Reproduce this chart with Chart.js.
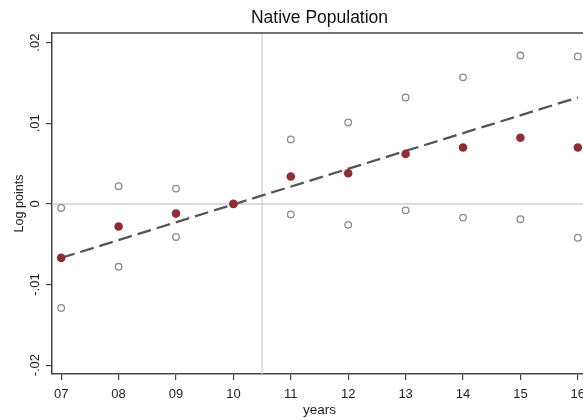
<!DOCTYPE html>
<html>
<head>
<meta charset="utf-8">
<script src="https://cdn.jsdelivr.net/npm/chart.js@4/dist/chart.umd.min.js"></script>
<style>
  html, body { margin: 0; padding: 0; overflow: hidden; background: #fff; }
  canvas { display: block; }
</style>
</head>
<body>
<canvas id="chart" width="600" height="420"></canvas>
<script>
// Event-study estimates by year (log points)
const years = [7, 8, 9, 10, 11, 12, 13, 14, 15, 16];
const xTickLabels = ['07', '08', '09', '10', '11', '12', '13', '14', '15', '16'];
const estimate = [-0.0067, -0.0028, -0.0012, 0, 0.0034, 0.0038, 0.0062, 0.0070, 0.0082, 0.0070];
const upperBound = [-0.0005, 0.0022, 0.0019, 0, 0.0080, 0.0101, 0.0132, 0.0157, 0.0184, 0.0183];
const lowerBound = [-0.0129, -0.0078, -0.0041, 0, -0.0013, -0.0026, -0.0008, -0.0017, -0.0019, -0.0042];

// Linear trend through the estimates
const trendYears = [7, 16];
const trendValues = [-0.0067, 0.0132];

// Y axis ticks
const yTicks = [-0.02, -0.01, 0, 0.01, 0.02];
const yTickLabels = ['-.02', '-.01', '0', '.01', '.02'];

// Reference lines
const policyBreak = 10.5;
const zeroLevel = 0;

const FONT = '"Liberation Sans", Arial, sans-serif';
const AXIS_COLOR = '#444';
const TEXT_COLOR = '#1e1e1e';

const toPoints = (xs, ys) => xs.map((x, i) => ({ x: x, y: ys[i] }));

const referenceLines = {
  id: 'referenceLines',
  beforeDatasetsDraw(chart) {
    const { ctx, chartArea, scales } = chart;
    ctx.save();
    ctx.strokeStyle = '#cfcfcf';
    ctx.lineWidth = 1.5;
    const y0 = scales.y.getPixelForValue(zeroLevel);
    ctx.beginPath();
    ctx.moveTo(chartArea.left, y0);
    ctx.lineTo(chartArea.right, y0);
    ctx.stroke();
    ctx.lineWidth = 1.2;
    const xb = scales.x.getPixelForValue(policyBreak);
    ctx.beginPath();
    ctx.moveTo(xb, chartArea.top);
    ctx.lineTo(xb, chartArea.bottom);
    ctx.stroke();
    ctx.restore();
  }
};

const frameAndYLabels = {
  id: 'frameAndYLabels',
  afterDraw(chart) {
    const { ctx, chartArea, scales } = chart;
    ctx.save();
    // top frame
    ctx.strokeStyle = AXIS_COLOR;
    ctx.lineWidth = 1.5;
    ctx.beginPath();
    ctx.moveTo(chartArea.left, chartArea.top);
    ctx.lineTo(chartArea.right + 20, chartArea.top);
    ctx.stroke();
    // vertical y tick labels
    ctx.font = '13px ' + FONT;
    ctx.fillStyle = TEXT_COLOR;
    ctx.textAlign = 'center';
    ctx.textBaseline = 'middle';
    yTicks.forEach((v, i) => {
      const py = scales.y.getPixelForValue(v);
      ctx.save();
      ctx.translate(35, py);
      ctx.rotate(-Math.PI / 2);
      ctx.fillText(yTickLabels[i], 0, 0);
      ctx.restore();
    });
    ctx.restore();
  }
};

new Chart(document.getElementById('chart'), {
  type: 'scatter',
  data: {
    datasets: [
      {
        label: 'Estimate',
        data: toPoints(years, estimate),
        pointRadius: 4.3,
        pointBorderWidth: 0,
        pointBackgroundColor: '#8f2d34',
        pointBorderColor: '#8f2d34',
        order: 0
      },
      {
        label: 'Upper bound',
        data: toPoints(years, upperBound),
        pointRadius: 3.3,
        pointBorderWidth: 1.3,
        pointBackgroundColor: 'rgba(255,255,255,0)',
        pointBorderColor: '#8a8a8a',
        order: 1
      },
      {
        label: 'Lower bound',
        data: toPoints(years, lowerBound),
        pointRadius: 3.3,
        pointBorderWidth: 1.3,
        pointBackgroundColor: 'rgba(255,255,255,0)',
        pointBorderColor: '#8a8a8a',
        order: 1
      },
      {
        label: 'Trend',
        data: toPoints(trendYears, trendValues),
        showLine: true,
        borderColor: '#555555',
        borderWidth: 2.3,
        borderDash: [14, 6],
        pointRadius: 0,
        order: 2
      }
    ]
  },
  options: {
    responsive: false,
    animation: false,
    devicePixelRatio: 1,
    layout: { padding: { left: 0, right: 13, top: 0, bottom: 0 } },
    plugins: {
      legend: { display: false },
      tooltip: { enabled: false },
      title: {
        display: true,
        text: 'Native Population',
        fullSize: false,
        color: '#111',
        font: { family: FONT, size: 17.5, weight: 'normal' },
        padding: { top: 8, bottom: 4 }
      }
    },
    scales: {
      x: {
        type: 'linear',
        min: 6.84,
        max: 16.16,
        afterBuildTicks: (s) => { s.ticks = years.map(v => ({ value: v })); },
        afterFit: (s) => { s.height = 46; },
        ticks: {
          autoSkip: false,
          maxRotation: 0,
          padding: 7,
          color: TEXT_COLOR,
          font: { family: FONT, size: 13 },
          callback: (value) => xTickLabels[years.indexOf(value)]
        },
        grid: { drawOnChartArea: false, drawTicks: true, tickLength: 6, color: AXIS_COLOR, lineWidth: 1.2 },
        border: { display: true, color: AXIS_COLOR, width: 1.5 },
        title: {
          display: true,
          text: 'years',
          color: TEXT_COLOR,
          font: { family: FONT, size: 13.5 },
          padding: { top: 0, bottom: 2 }
        }
      },
      y: {
        min: -0.0211,
        max: 0.0212,
        afterBuildTicks: (s) => { s.ticks = yTicks.map(v => ({ value: v })); },
        afterFit: (s) => { s.width = 52; },
        ticks: { display: false },
        grid: { drawOnChartArea: false, drawTicks: true, tickLength: 6, color: AXIS_COLOR, lineWidth: 1.2 },
        border: { display: true, color: AXIS_COLOR, width: 1.5 },
        title: {
          display: true,
          text: 'Log points',
          color: TEXT_COLOR,
          font: { family: FONT, size: 12.6 },
          padding: { top: 11.5, bottom: 0 }
        }
      }
    }
  },
  plugins: [referenceLines, frameAndYLabels]
});
</script>
</body>
</html>
